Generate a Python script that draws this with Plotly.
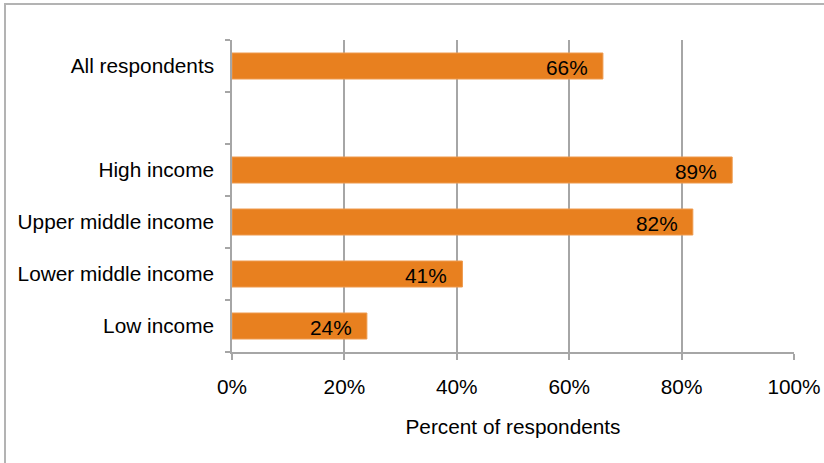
import plotly.graph_objects as go

categories = ["All respondents", " ", "High income", "Upper middle income",
              "Lower middle income", "Low income"]
values = [66, None, 89, 82, 41, 24]
labels = ["66%", "", "89%", "82%", "41%", "24%"]
x_ticks = [0, 20, 40, 60, 80, 100]
x_tick_labels = ["0%", "20%", "40%", "60%", "80%", "100%"]

FONT = "Liberation Sans, Arial, sans-serif"
GRID = "#a6a6a6"
FS = 20.8

fig = go.Figure()
fig.add_trace(go.Bar(
    y=categories, x=values, orientation="h",
    marker=dict(color="#E8801F", line=dict(color="#EE9A4E", width=1)),
    width=0.5, hoverinfo="skip",
))

for c, v, t in zip(categories, values, labels):
    if v is None:
        continue
    fig.add_annotation(x=v, y=c, text=t, showarrow=False, xanchor="right",
                       xshift=-13, yshift=-1,
                       font=dict(family=FONT, size=FS, color="#000000"))

fig.update_layout(
    width=824, height=463,
    margin=dict(l=232, r=30, t=40, b=111),
    plot_bgcolor="white", paper_bgcolor="white",
    showlegend=False,
    font=dict(family=FONT, size=FS, color="#000000"),
    xaxis=dict(
        range=[0, 100], tickvals=x_ticks, ticktext=x_tick_labels,
        showgrid=True, gridcolor=GRID, gridwidth=1.5,
        showline=True, linecolor=GRID, linewidth=1.5,
        ticks="outside", ticklen=6, tickcolor=GRID, tickwidth=1.5,
        zeroline=False, ticklabelstandoff=9, automargin=False,
        title=dict(text="Percent of respondents", standoff=23,
                   font=dict(family=FONT, size=FS)),
        fixedrange=True,
    ),
    yaxis=dict(
        type="category", categoryorder="array", categoryarray=categories[::-1],
        showgrid=False, showline=True, linecolor=GRID, linewidth=1.5,
        ticks="outside", ticklen=5, tickcolor=GRID, tickwidth=1.5,
        tickson="boundaries", ticklabelstandoff=12, automargin=False,
        fixedrange=True,
    ),
    shapes=[dict(type="rect", xref="paper", yref="paper",
                 x0=(5 - 232) / 562, x1=(840 - 232) / 562,
                 y0=(352 - 480) / 312, y1=(352 - 4) / 312,
                 line=dict(color="#b3b3b3", width=2), fillcolor="rgba(0,0,0,0)",
                 layer="below")],
)

fig.write_html("out.html", config={"displayModeBar": False},
               post_script="document.body.style.margin='0';")
